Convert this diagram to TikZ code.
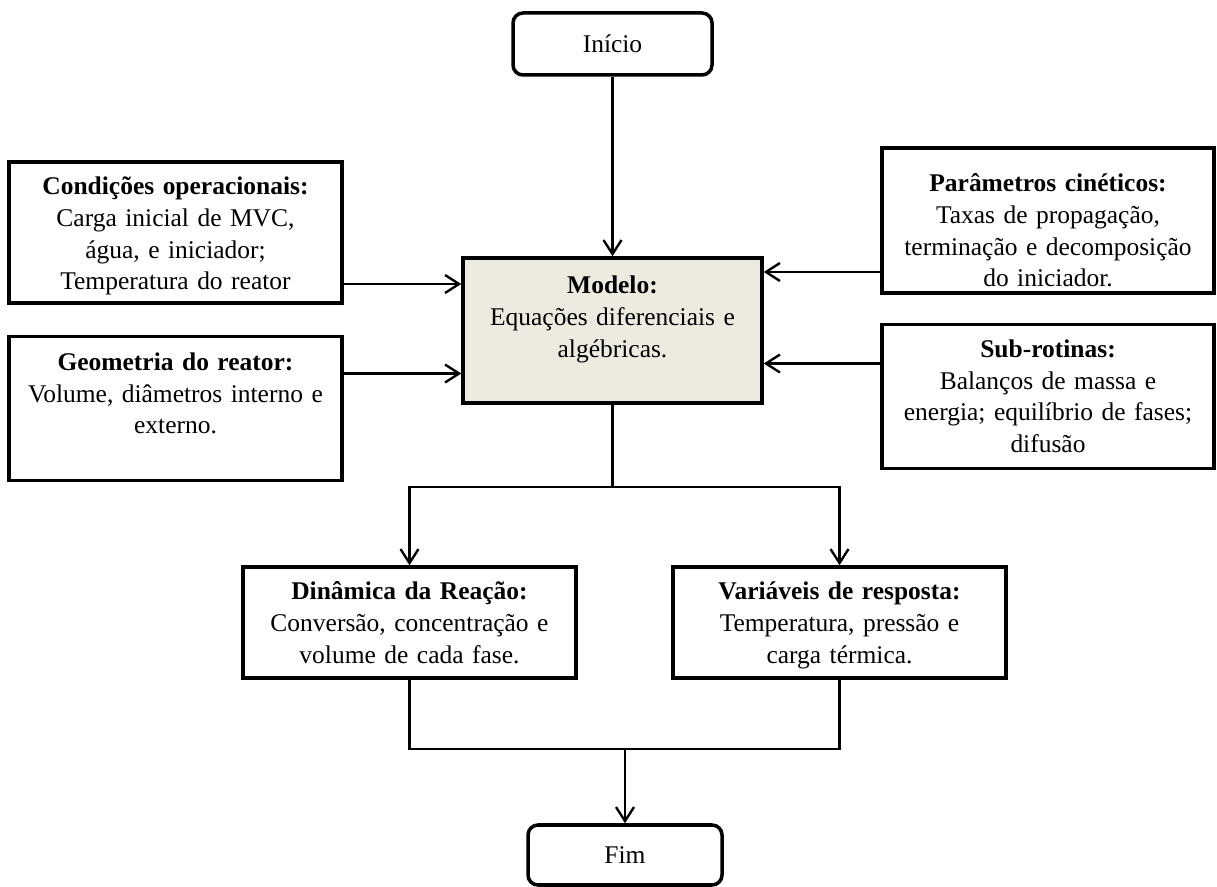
\documentclass[tikz,border=0pt]{standalone}
\usepackage{fontspec}
\setmainfont{Liberation Serif}[WordSpace=0.85]
\usepackage{tikz}
\usetikzlibrary{positioning,arrows.meta,calc}
\definecolor{modelfill}{RGB}{237,235,224}
\tikzset{
  textbox/.style={draw,line width=2pt,inner sep=0pt,align=center,
    font=\fontsize{14.5}{18}\selectfont,text width=6.66cm,
    text height=0.66cm,text depth=2.16cm},
  modelbox/.style={textbox,fill=modelfill,text width=5.98cm,
    text height=0.72cm,text depth=2.18cm},
  resultbox/.style={textbox,text height=0.66cm,text depth=1.56cm},
  termbox/.style={draw,line width=2pt,rounded corners=0.2cm,inner sep=0pt,
    minimum width=3.98cm,minimum height=1.24cm,font=\fontsize{14.5}{18}\selectfont},
}

\begin{document}
\begin{tikzpicture}[->,>={Straight Barb[length=2.8mm,width=3.6mm]},line width=1.35pt]

\useasboundingbox (0,0) rectangle (24.34,17.72);

\node[termbox] (inicio) at (12.25,16.84) {Início};
\node[modelbox] (modelo) at (12.25,11.11) {\textbf{Modelo:}\\ Equações diferenciais e\\ algébricas.};

\node[textbox] (cond) at (3.51,13.07) {\textbf{Condições operacionais:}\\ Carga inicial de MVC,\\ água, e iniciador;\\ Temperatura do reator};
\node[textbox,below=0.6cm of cond,text height=0.68cm,text depth=2.2cm] (geo) {\textbf{Geometria do reator:}\\ Volume, diâmetros interno e\\ externo.};

\node[textbox,text width=6.64cm,text height=0.88cm,text depth=2.02cm] (param) at (20.96,13.31) {\textbf{Parâmetros cinéticos:}\\ Taxas de propagação,\\ terminação e decomposição\\ do iniciador.};
\node[textbox,below=0.56cm of param,text width=6.64cm,text depth=2.22cm] (sub) {\textbf{Sub-rotinas:}\\ Balanços de massa e\\ energia; equilíbrio de fases;\\ difusão};

\node[resultbox] (din) at (8.19,5.27) {\textbf{Dinâmica da Reação:}\\ Conversão, concentração e\\ volume de cada fase.};
\node[resultbox] (var) at (16.79,5.27) {\textbf{Variáveis de resposta:}\\ Temperatura, pressão e\\ carga térmica.};

\node[termbox,minimum width=3.88cm,minimum height=1.2cm] (fim) at (12.5,0.62) {Fim};

% entradas do modelo
\coordinate (c1) at ([yshift=-1.03cm]cond.east);
\coordinate (c2) at ([yshift=0.70cm]geo.east);
\coordinate (c3) at ([yshift=-1.03cm]param.west);
\coordinate (c4) at ([yshift=0.66cm]sub.west);

\draw (inicio) -- (modelo);
\draw (c1) -- (c1 -| modelo.west);
\draw (c2) -- (c2 -| modelo.west);
\draw (c3) -- (c3 -| modelo.east);
\draw (c4) -- (c4 -| modelo.east);

% saidas
\coordinate (split) at ([yshift=-1.64cm]modelo.south);
\draw[-] (modelo) -- (split);
\draw (split) -| (din.north);
\draw (split) -| (var.north);

\coordinate (merge) at ([yshift=1.48cm]fim.north);
\draw[-] (din.south) |- (merge) -| (var.south);
\draw (merge) -- (fim);

\end{tikzpicture}
\end{document}
